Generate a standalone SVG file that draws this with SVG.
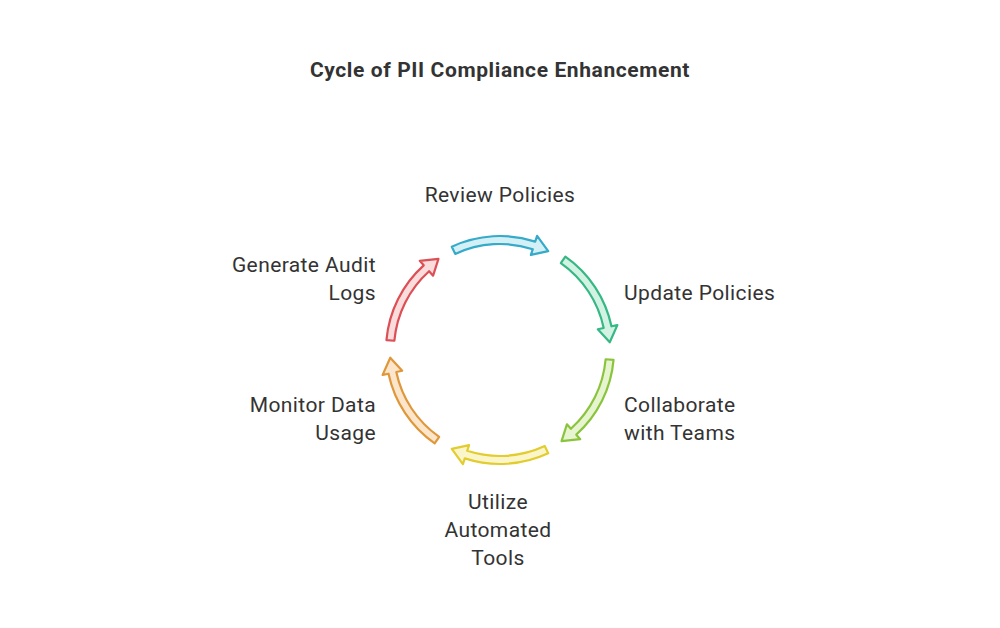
<svg xmlns="http://www.w3.org/2000/svg" width="1000" height="628" viewBox="0 0 1000 628">
<style>
text{font-family:Roboto,"Liberation Sans",sans-serif;font-size:21px;letter-spacing:0.4px;fill:#333}
.t{font-weight:bold;font-size:21px;letter-spacing:0.6px}
.a{stroke-width:2.2;stroke-linejoin:round}
</style>
<defs><path id="arr" d="M451.8,246.7 A114,114 0 0 1 535.2,241.6 L537.1,235.9 L548.2,251.1 L530.9,254.9 L532.8,249.2 A106,106 0 0 0 455.2,253.9 Z"/></defs>
<rect width="1000" height="628" fill="#fff"/>
<text class="t" x="500" y="77" text-anchor="middle">Cycle of PII Compliance Enhancement</text>
<g id="connectors">
<use href="#arr" class="a" fill="#d3f0f7" stroke="#35aac9"/>
<use href="#arr" class="a" fill="#d2f2e4" stroke="#35b883" transform="rotate(60 500 350)"/>
<use href="#arr" class="a" fill="#e6f4cf" stroke="#8ac43c" transform="rotate(120 500 350)"/>
<use href="#arr" class="a" fill="#fbf6c9" stroke="#e2cc2e" transform="rotate(180 500 350)"/>
<use href="#arr" class="a" fill="#fbe6cc" stroke="#df973a" transform="rotate(240 500 350)"/>
<use href="#arr" class="a" fill="#fbdcdc" stroke="#dc4f55" transform="rotate(300 500 350)"/>
</g>
<g id="n1"><text x="500" y="202" text-anchor="middle">Review Policies</text></g>
<g id="n2"><text x="624" y="300">Update Policies</text></g>
<g id="n3"><text x="624" y="412">Collaborate</text><text x="624" y="440">with Teams</text></g>
<g id="n4"><text x="498" y="509" text-anchor="middle">Utilize</text><text x="498" y="537" text-anchor="middle">Automated</text><text x="498" y="565" text-anchor="middle">Tools</text></g>
<g id="n5"><text x="376" y="412" text-anchor="end">Monitor Data</text><text x="376" y="440" text-anchor="end">Usage</text></g>
<g id="n6"><text x="376" y="272" text-anchor="end">Generate Audit</text><text x="376" y="300" text-anchor="end">Logs</text></g>
</svg>
